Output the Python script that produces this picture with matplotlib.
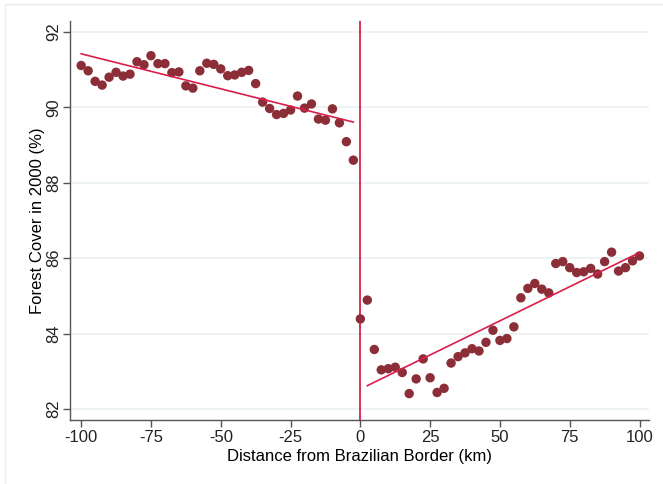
import matplotlib
matplotlib.use("Agg")
import matplotlib.pyplot as plt

# ---- data ----
left_x = [-100, -97.5, -95, -92.5, -90, -87.5, -85, -82.5, -80, -77.5,
          -75, -72.5, -70, -67.5, -65, -62.5, -60, -57.5, -55, -52.5,
          -50, -47.5, -45, -42.5, -40, -37.5, -35, -32.5, -30, -27.5,
          -25, -22.5, -20, -17.5, -15, -12.5, -10, -7.5, -5, -2.5]
left_y = [91.11, 90.97, 90.69, 90.59, 90.80, 90.93, 90.83, 90.88, 91.21, 91.13,
          91.37, 91.16, 91.16, 90.92, 90.94, 90.57, 90.51, 90.97, 91.17, 91.14,
          91.02, 90.84, 90.86, 90.93, 90.98, 90.63, 90.14, 89.97, 89.81, 89.84,
          89.93, 90.30, 89.98, 90.09, 89.69, 89.66, 89.96, 89.59, 89.09, 88.60]

right_x = [0, 2.5, 5, 7.5, 10, 12.5, 15, 17.5, 20, 22.5,
           25, 27.5, 30, 32.5, 35, 37.5, 40, 42.5, 45, 47.5,
           50, 52.5, 55, 57.5, 60, 62.5, 65, 67.5, 70, 72.5,
           75, 77.5, 80, 82.5, 85, 87.5, 90, 92.5, 95, 97.5, 100]
right_y = [84.39, 84.89, 83.58, 83.04, 83.07, 83.11, 82.97, 82.41, 82.80, 83.33,
           82.83, 82.44, 82.55, 83.22, 83.39, 83.49, 83.60, 83.54, 83.77, 84.09,
           83.82, 83.87, 84.18, 84.95, 85.20, 85.33, 85.18, 85.08, 85.86, 85.91,
           85.75, 85.62, 85.64, 85.73, 85.58, 85.91, 86.16, 85.66, 85.75, 85.93, 86.06]

fit_left_x = [-100, -2.5]
fit_left_y = [91.42, 89.61]
fit_right_x = [2.5, 100]
fit_right_y = [82.62, 86.15]

xticks = [-100, -75, -50, -25, 0, 25, 50, 75, 100]
yticks = [82, 84, 86, 88, 90, 92]

dot_color = "#8C2E38"
line_color = "#D91E4A"
grid_color = "#EAF1F3"
spine_color = "#555555"

plt.rcParams['font.family'] = ['Liberation Sans', 'DejaVu Sans']

fig = plt.figure(figsize=(6.63, 4.84), dpi=100)
W, H = 663, 484
ax = fig.add_axes([70 / W, 1 - 420 / H, (649 - 70) / W, (420 - 21) / H])

for yt in yticks:
    ax.axhline(yt, color=grid_color, lw=1.2, zorder=0)

ax.scatter(left_x, left_y, s=46, color=dot_color, edgecolors='none', zorder=3)
ax.scatter(right_x, right_y, s=46, color=dot_color, edgecolors='none', zorder=3)
ax.plot(fit_left_x, fit_left_y, color=line_color, lw=1.2, zorder=4)
ax.plot(fit_right_x, fit_right_y, color=line_color, lw=1.2, zorder=4)
ax.axvline(0, color=line_color, lw=1.3, zorder=2)

ax.set_xlim(-104, 103.4)
ax.set_ylim(81.71, 92.29)
ax.set_xticks(xticks)
ax.set_yticks(yticks)
ax.set_xticklabels([str(t) for t in xticks], fontsize=12)
ax.set_yticklabels([str(t) for t in yticks], fontsize=12, rotation=90, va='center')

for s in ['top', 'right']:
    ax.spines[s].set_visible(False)
for s in ['left', 'bottom']:
    ax.spines[s].set_color(spine_color)
    ax.spines[s].set_linewidth(1.0)
ax.tick_params(axis='both', colors='#222222', length=5, width=1.0, color=spine_color, pad=2)
ax.tick_params(axis='y', pad=1.5)

ax.set_xlabel("Distance from Brazilian Border (km)", fontsize=12, labelpad=3)
ax.set_ylabel("Forest Cover in 2000 (%)", fontsize=12, labelpad=0.5)

# outer graph-region border
border = plt.Rectangle((5 / W, -0.01), 1.0, 1 - 4 / H + 0.01, transform=fig.transFigure,
                       fill=False, edgecolor="#E6EDEF", lw=1.0)
fig.patches.append(border)

fig.savefig("out.png", dpi=100)
